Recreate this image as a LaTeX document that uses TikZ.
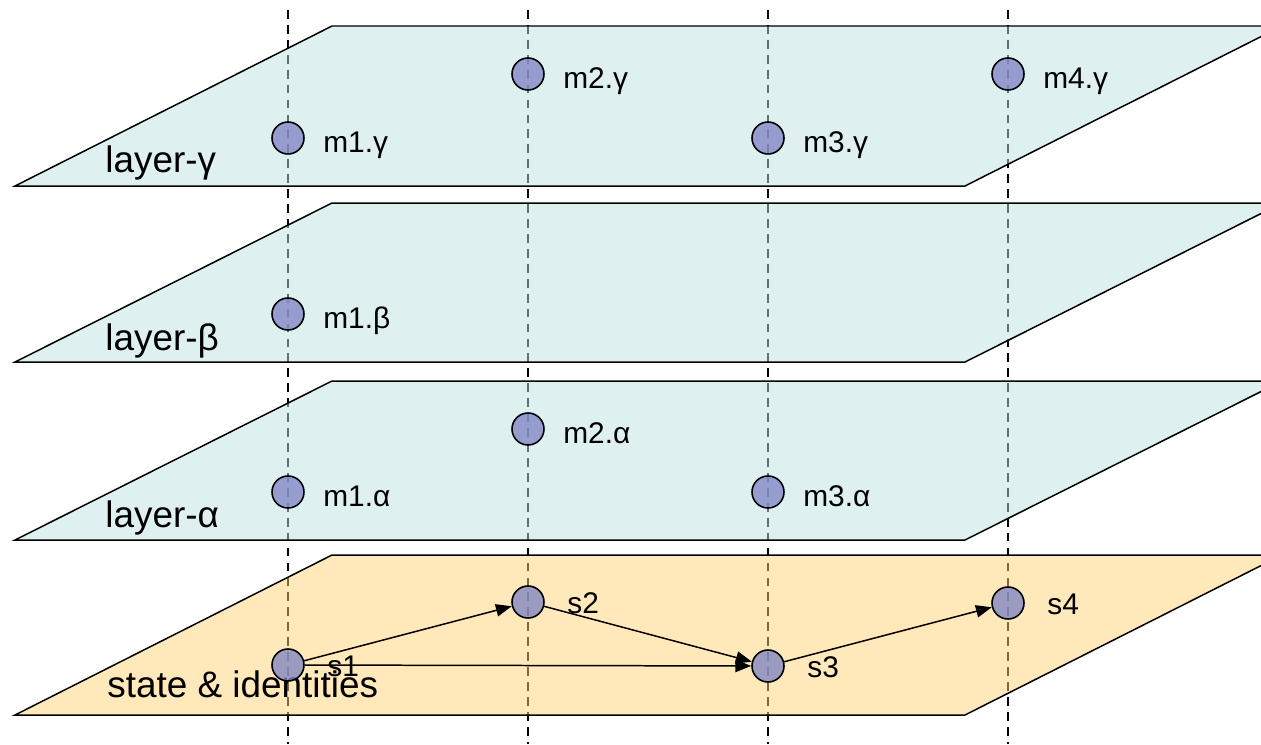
\documentclass[tikz,border=0pt]{standalone}
\usepackage{fontspec}
\setmainfont{Liberation Sans}
\usetikzlibrary{arrows.meta}

\definecolor{plancyan}{RGB}{191,225,225}
\definecolor{planorange}{RGB}{255,209,115}
\definecolor{pointbleu}{RGB}{128,134,196}

\tikzset{
    plan/.style={draw=black, line width=0.85pt, fill opacity=0.5},
    rond/.style={circle, draw=black, line width=0.9pt, fill=pointbleu,
        fill opacity=0.78, minimum size=0.64cm, inner sep=0pt},
    etiq/.style={anchor=base west, inner sep=0pt, font=\fontsize{17}{20}\selectfont},
    titre/.style={anchor=base west, inner sep=0pt, font=\fontsize{21}{25}\selectfont},
    fleche/.style={-{Triangle[length=9pt,width=7pt]}, line width=0.85pt},
    axe/.style={dash pattern=on 5pt off 3.5pt, line width=0.85pt}
}

\begin{document}
\begin{tikzpicture}[x=0.02cm, y=-0.02cm]
        \useasboundingbox (0,0) rectangle (1261,744);
        \clip (0,0) rectangle (1261,744);

        % Axes verticaux
        \foreach \x in {288,528,768,1008}
            \draw[axe] (\x,10) -- (\x,744);

        % Couches
        \foreach \yh/\yb/\coul in {26/186/plancyan, 203/362/plancyan,
                381/540/plancyan, 555/715/planorange}
            \draw[plan, fill=\coul] (15,\yb) -- (332,\yh) -- (1282,\yh)
                -- (965,\yb) -- cycle;

        \node[titre] (nomg) at (105,172) {layer-γ};
        \node[titre] (nomb) at (105,350) {layer-β};
        \node[titre] (noma) at (105,527) {layer-α};
        \node[titre] (nome) at (107,697) {state \& identities};

        % Points des couches
        \node[rond] (m1g) at (288,138) {};
        \node[rond] (m2g) at (528,74) {};
        \node[rond] (m3g) at (768,138) {};
        \node[rond] (m4g) at (1008,74) {};
        \node[rond] (m1b) at (288,314) {};
        \node[rond] (m1a) at (288,492) {};
        \node[rond] (m2a) at (528,429) {};
        \node[rond] (m3a) at (768,492) {};

        \foreach \n/\t in {m1g/m1.γ, m2g/m2.γ, m3g/m3.γ, m4g/m4.γ,
                m1b/m1.β, m1a/m1.α, m2a/m2.α, m3a/m3.α}
            \node[etiq] (l\n) at ([xshift=0.7cm, yshift=-0.28cm]\n.center) {\t};

        % Etats
        \node[rond] (s1) at (288,665) {};
        \node[rond] (s2) at (528,602) {};
        \node[rond] (s3) at (768,666) {};
        \node[rond] (s4) at (1008,603) {};

        \foreach \n in {1,2,3,4}
            \node[etiq] (ls\n) at ([xshift=0.78cm, yshift=-0.22cm]s\n.center) {s\n};

        \draw[fleche] (s1) -- (s2);
        \draw[fleche] (s2) -- (s3);
        \draw[fleche] (s1) -- (s3);
        \draw[fleche] (s3) -- (s4);
    \end{tikzpicture}
\end{document}
